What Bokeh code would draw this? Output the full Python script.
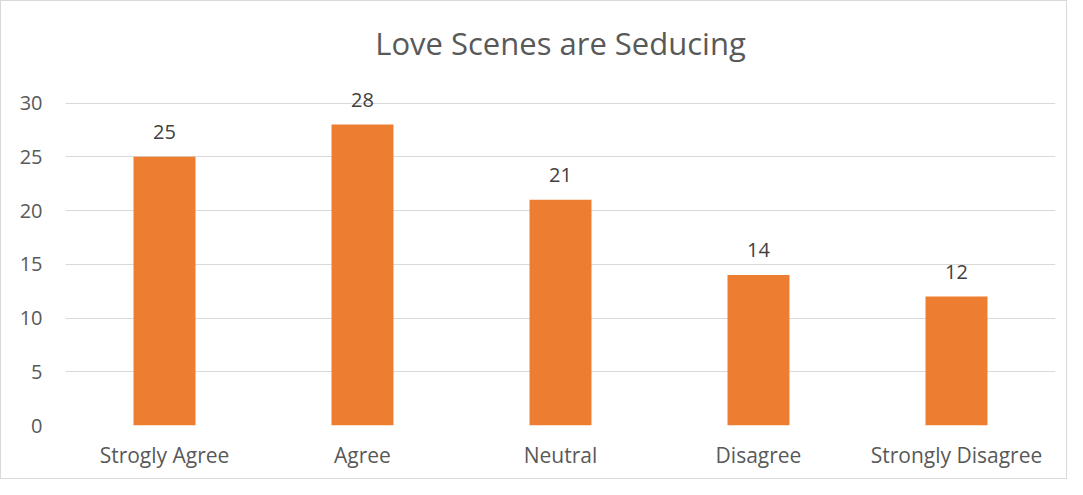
from bokeh.plotting import figure
from bokeh.models import ColumnDataSource, LabelSet, Range1d, FactorRange, FixedTicker
from bokeh.core.properties import value
from bokeh.embed import file_html
from bokeh.resources import INLINE

categories = ["Strogly Agree", "Agree", "Neutral", "Disagree", "Strongly Disagree"]
values = [25, 28, 21, 14, 12]
y_ticks = [0, 5, 10, 15, 20, 25, 30]

FONT = "Open Sans"

src = ColumnDataSource(dict(cat=categories, val=values, lab=[str(v) for v in values]))

p = figure(width=1067, height=479, output_backend="svg", toolbar_location=None,
           x_range=FactorRange(*categories, range_padding=0), y_range=Range1d(0, 32),
           min_border_left=64, min_border_right=13, min_border_top=76, min_border_bottom=55)

p.title.text = "Love Scenes are Seducing"
p.title.align = "center"
p.title.text_font = FONT
p.title.text_font_size = "31px"
p.title.text_font_style = "normal"
p.title.text_color = "#595959"
p.title.standoff = 36

p.vbar(x="cat", top="val", width=0.313, source=src, color="#ED7D31", line_color=None)

labels = LabelSet(x="cat", y="val", text="lab", source=src, text_align="center",
                  text_baseline="alphabetic", y_offset=18, text_font_size="20px",
                  text_color="#404040", text_font=value(FONT))
p.add_layout(labels)

p.yaxis.ticker = FixedTicker(ticks=y_ticks)
p.ygrid.ticker = FixedTicker(ticks=y_ticks)
p.ygrid.grid_line_color = "#d9d9d9"
p.ygrid.grid_line_width = 1
p.xgrid.grid_line_color = None

for ax in (p.xaxis, p.yaxis):
    ax.axis_line_color = None
    ax.major_tick_line_color = None
    ax.minor_tick_line_color = None
    ax.major_tick_out = 0
    ax.major_tick_in = 0
    ax.major_label_text_font = FONT
    ax.major_label_text_color = "#595959"
p.yaxis.major_label_text_font_size = "20px"
p.xaxis.major_label_text_font_size = "21px"
p.yaxis.major_label_standoff = 23
p.xaxis.major_label_standoff = 15

p.outline_line_color = None
p.border_fill_color = "white"
p.background_fill_color = "white"
p.styles = {"border": "1px solid #d9d9d9"}

open("out.html", "w").write(file_html(p, INLINE))
